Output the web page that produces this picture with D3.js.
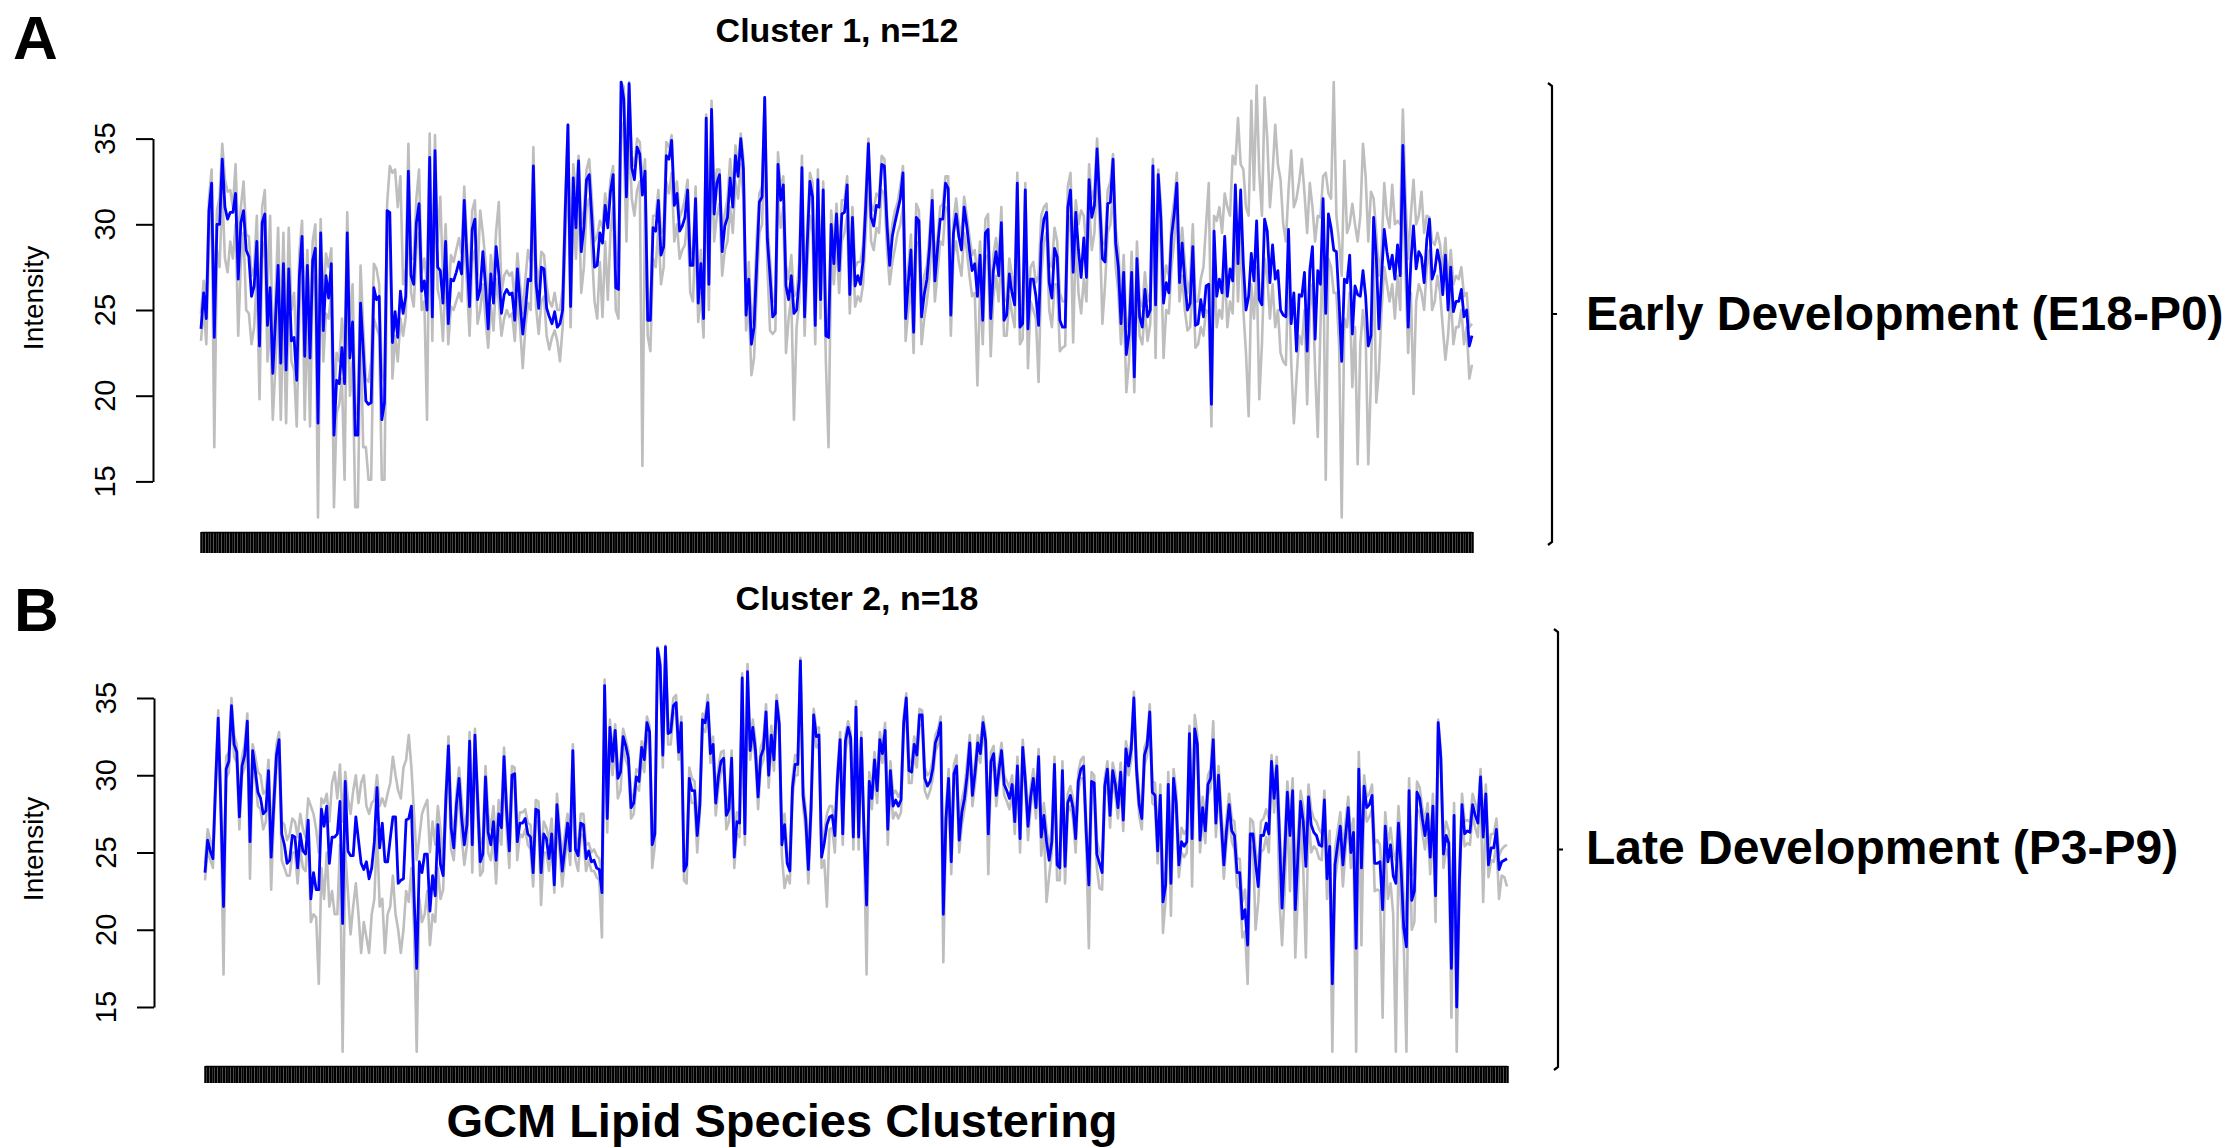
<!DOCTYPE html>
<html>
<head>
<meta charset="utf-8">
<script src="https://cdn.jsdelivr.net/npm/d3@7"></script>
<style>
  html, body { margin: 0; padding: 0; background: #fff; }
  svg text { font-family: "Liberation Sans", Arial, Helvetica, sans-serif; fill: #000; }
</style>
</head>
<body>
<svg id="chart" width="2228" height="1148"></svg>
<script>
'use strict';

var yTicks = [15, 20, 25, 30, 35];
var panelLetters = ['A', 'B'];
var panelTitles = ['Cluster 1, n=12', 'Cluster 2, n=18'];
var stageLabels = ['Early Development (E18-P0)', 'Late Development (P3-P9)'];
var yLabel = 'Intensity';
var xLabel = 'GCM Lipid Species Clustering';

// cluster 1 (early development): mean profile (blue) + upper / lower member traces (grey)
var clusterOneMean = [
  23.9,26.0,24.5,30.8,32.4,23.4,30.0,30.0,33.8,31.0, 30.3,30.7,30.7,31.8,26.8,30.1,30.8,28.5,28.1,25.8,
  26.4,29.0,22.9,30.1,30.6,24.1,26.3,21.3,24.4,27.6, 21.9,27.7,21.5,27.4,23.2,23.4,20.9,27.0,29.3,22.3,
  27.6,22.2,27.9,28.6,18.4,29.5,23.8,27.0,25.7,27.7, 17.7,20.9,20.7,22.8,20.7,29.5,22.2,24.3,17.7,17.7,
  25.4,22.7,19.7,19.5,19.6,26.3,25.6,25.8,18.6,19.6, 30.8,30.7,23.1,24.9,23.4,26.1,24.8,25.8,33.1,27.0,
  26.5,30.1,31.2,26.1,26.7,25.0,33.9,24.6,34.3,27.5, 27.3,25.4,29.0,24.2,26.8,26.7,27.2,27.8,27.1,31.4,
  28.1,25.2,29.7,30.3,25.6,26.2,28.4,26.4,23.9,27.1, 25.4,28.7,27.1,24.8,25.9,26.2,25.9,26.0,24.4,27.4,
  25.4,23.6,25.0,26.8,26.7,33.4,26.6,25.1,27.5,27.4, 25.1,24.6,24.2,24.9,24.0,24.2,25.0,30.8,35.8,25.2,
  32.7,29.8,33.7,28.4,29.8,32.6,32.9,30.3,27.5,27.6, 29.5,
  28.9,31.1,29.8,31.9,32.9,26.3,26.2,38.3,37.3,31.6, 38.2,33.3,32.6,34.5,34.1,31.7,33.1,24.4,24.4,29.8,
  29.6,31.4,28.2,28.7,34.0,33.8,34.9,31.1,31.8,29.6, 29.9,30.4,32.0,27.6,27.6,31.5,25.4,27.7,24.5,36.2,
  26.5,36.7,30.6,32.4,32.9,28.4,29.9,30.4,32.7,31.0, 34.0,32.8,35.0,33.2,24.7,26.8,23.0,24.0,27.7,31.3,
  31.6,37.4,29.1,27.0,24.6,24.8,33.5,31.4,32.3,26.4, 25.6,27.0,24.8,25.0,26.8,33.3,24.6,28.9,32.5,31.6,
  24.1,32.6,25.6,32.0,23.5,23.4,30.0,27.7,30.6,27.3, 30.6,30.7,32.3,25.9,30.4,26.4,27.0,26.5,27.9,31.1,
  34.7,30.4,29.9,31.1,31.0,33.5,33.4,29.9,27.6,29.3, 30.1,30.8,31.5,33.0,24.5,26.6,28.5,23.7,30.4,30.2,
  24.6,25.9,26.8,28.7,31.4,26.7,28.6,30.3,30.3,32.4, 32.1,24.7,29.5,30.6,29.3,28.5,31.0,29.9,28.5,27.3,
  27.7,25.8,28.2,24.4,29.5,29.7,24.5,27.3,28.4,27.0, 30.1,24.4,24.7,27.1,26.0,25.3,32.4,24.0,24.2,32.0,
  23.9,26.8,26.8,25.8,
  24.1,28.9,30.3,30.7,26.6,25.7,28.6,28.1,24.4,24.0, 24.0,31.0,32.0,27.2,30.7,28.5,26.9,29.2,26.9,32.6,
  30.4,31.1,34.4,31.2,28.0,27.8,31.2,31.3,33.8,28.9, 27.5,24.2,27.2,22.4,23.6,27.2,21.1,28.0,24.6,24.0,
  26.2,24.6,25.0,33.4,25.3,32.9,30.3,25.4,26.6,26.0, 29.3,30.6,32.4,26.6,28.9,26.6,25.0,25.4,28.7,24.1,
  24.2,25.6,24.6,26.4,26.5,19.5,29.6,25.8,26.8,26.0, 29.3,25.8,27.4,26.7,32.3,27.7,32.0,27.7,25.0,25.8,
  28.3,26.7,30.2,25.6,25.3,30.3,29.6,26.6,28.8,26.8, 27.3,25.0,24.7,24.6,29.7,24.2,26.0,22.6,25.9,25.8,
  27.2,22.6,27.3,28.7,23.3,27.3,26.5,31.5,24.8,30.6, 29.8,28.5,28.4,25.5,22.0,26.8,26.6,28.2,23.6,26.4,
  25.9,25.8,27.3,25.8,22.9,23.5,30.4,28.1,23.9,27.0, 29.7,28.4,27.4,28.2,26.8,28.8,27.0,34.6,29.5,24.0,
  27.8,29.9,27.4,28.4,28.1,26.6,29.1,30.3,26.8,27.3, 28.5,27.7,25.9,28.2,25.0,27.5,24.9,25.5,25.5,26.2,
  24.6,25.0,22.9,23.5
];
var clusterOneHigh = [
  24.8,26.7,25.5,31.5,33.2,25.0,30.8,31.6,34.7,32.6, 31.9,32.0,31.0,33.5,29.0,31.0,32.5,29.4,29.3,27.0,
  27.5,30.5,24.0,31.0,32.0,25.8,30.5,22.5,25.8,29.8, 24.0,29.5,23.0,29.8,25.0,26.0,22.5,28.4,30.2,24.3,
  28.5,24.0,29.0,30.0,20.5,30.3,25.2,28.3,27.5,28.6, 19.5,22.5,22.0,24.5,22.5,30.7,24.0,26.5,19.5,18.8,
  27.6,24.0,21.0,20.8,22.0,27.7,27.4,26.5,21.5,20.8, 31.2,33.4,33.0,33.2,31.0,32.8,26.5,27.4,34.7,28.0,
  28.0,31.5,33.2,27.2,28.0,26.5,35.3,25.9,35.2,29.0, 31.6,26.8,30.0,25.5,28.2,27.8,28.5,29.2,28.3,32.2,
  29.0,26.5,30.8,31.4,27.0,30.8,29.5,27.8,25.0,28.2, 26.8,29.6,31.3,26.0,27.0,27.3,27.0,27.2,25.5,28.3,
  26.5,24.8,26.8,28.5,27.8,34.5,27.8,26.4,28.4,28.2, 26.4,25.5,25.2,26.0,25.0,25.0,26.2,31.5,35.8,26.2,
  33.5,31.8,34.0,30.0,30.8,33.2,33.8,31.5,29.0,29.3, 30.2,
  29.8,31.8,30.5,32.6,33.4,28.5,27.5,38.3,38.0,32.8, 38.3,34.0,33.4,35.0,34.8,32.5,33.8,25.5,25.0,30.5,
  30.5,32.0,29.5,29.8,34.8,34.5,35.2,31.8,32.5,30.4, 30.8,31.5,32.6,28.6,28.2,32.2,26.5,28.5,25.5,36.4,
  27.5,37.2,31.8,33.2,33.2,29.4,30.6,31.5,33.8,31.8, 34.6,33.4,35.3,33.8,25.5,27.8,24.2,25.5,29.2,31.8,
  32.2,37.4,30.0,28.0,25.5,25.5,34.2,32.0,32.8,27.6, 26.8,28.2,25.8,26.0,27.8,34.0,25.6,29.8,33.0,32.4,
  25.2,33.2,26.8,32.5,24.5,24.2,30.8,28.6,31.2,28.3, 31.4,31.4,32.8,27.2,31.0,27.5,27.8,27.8,28.8,31.8,
  35.0,31.2,30.8,31.8,31.6,34.0,33.8,30.6,28.6,30.0, 30.8,31.3,32.2,33.4,25.6,27.5,29.4,24.8,31.2,30.8,
  25.5,27.0,27.6,29.5,32.0,27.8,29.2,31.0,31.2,32.8, 32.8,25.6,30.2,31.5,30.0,29.3,31.6,30.5,29.3,28.2,
  28.5,26.8,29.0,25.4,30.3,30.6,25.5,28.2,29.2,27.8, 31.0,25.5,25.6,28.0,27.0,26.2,33.0,25.0,25.0,32.4,
  24.8,27.5,27.8,26.6,
  27.0,30.5,31.0,31.2,27.8,27.5,29.8,29.0,26.0,25.5, 25.5,32.2,33.0,28.5,31.4,30.0,30.8,30.5,28.5,33.5,
  31.5,32.0,35.0,32.0,29.0,28.8,32.0,32.5,34.1,29.8, 28.5,25.5,28.2,24.0,24.6,28.4,22.8,29.0,25.5,25.2,
  27.2,25.5,26.0,33.8,26.5,33.2,31.2,26.5,27.6,27.0, 30.2,31.4,33.0,28.0,29.8,27.8,26.0,26.8,30.0,25.5,
  25.5,26.8,27.5,30.0,32.4,22.0,30.5,30.2,31.0,29.5, 31.8,31.0,30.5,34.0,33.5,36.2,33.5,33.2,31.0,30.5,
  37.2,32.0,38.1,33.0,30.5,37.4,35.0,31.0,33.0,35.8, 33.5,32.6,30.0,29.0,32.0,34.3,31.0,31.5,32.5,33.8,
  31.8,29.5,32.4,31.0,29.0,30.5,30.4,32.8,33.0,31.8, 31.5,38.3,30.5,29.0,27.0,33.7,29.5,30.0,31.2,30.0,
  29.0,30.5,34.7,32.8,29.0,31.9,31.5,29.5,27.0,28.5, 32.4,30.5,29.8,32.3,30.0,30.2,30.0,36.7,31.5,28.0,
  30.5,32.6,30.0,30.5,31.9,29.5,30.5,30.4,29.0,28.8, 29.5,28.8,27.2,29.2,26.5,28.5,26.5,27.0,26.8,27.5,
  25.8,26.0,24.0,24.2
];
var clusterOneLow = [
  23.2,25.2,23.0,29.0,31.4,17.0,28.5,27.5,32.0,28.0, 27.2,29.0,28.0,30.0,23.5,27.8,29.5,25.0,24.8,23.0,
  24.0,27.0,19.8,28.0,29.0,22.0,24.5,18.6,21.8,25.5, 18.6,25.5,18.4,25.5,22.0,21.5,18.2,25.0,28.0,18.6,
  25.0,18.2,26.5,27.0,12.9,28.0,22.0,24.8,24.5,26.0, 13.5,19.0,19.5,21.0,15.1,27.5,20.0,22.0,13.5,13.5,
  24.0,17.0,17.0,15.1,15.1,24.5,24.0,23.5,15.1,15.1, 28.5,30.0,21.0,23.5,22.0,24.5,23.5,24.6,31.0,26.0,
  25.2,28.5,29.5,25.0,25.5,18.6,32.0,23.2,33.0,26.2, 25.5,23.2,27.5,23.0,25.2,25.0,25.5,26.0,25.5,29.5,
  26.5,23.5,27.8,28.5,24.2,25.0,26.5,24.5,22.8,25.3, 23.8,26.8,25.5,23.5,24.5,25.0,24.6,24.8,23.2,25.8,
  24.0,21.6,24.0,25.4,25.0,31.5,25.2,23.6,25.5,25.8, 23.5,22.7,23.4,23.8,23.2,22.0,24.0,29.0,33.5,24.0,
  31.0,28.0,32.0,26.0,27.5,31.0,31.5,28.5,25.5,24.5, 27.8,
  24.6,29.0,25.6,29.5,31.0,25.0,24.5,36.0,35.0,29.0, 35.5,31.5,30.5,32.0,32.5,15.9,31.5,23.5,22.6,28.0,
  27.5,29.8,26.5,27.5,32.5,31.8,33.0,29.0,30.0,28.0, 28.5,28.8,30.5,26.0,25.5,29.5,24.3,26.0,23.4,33.5,
  25.0,34.5,29.0,30.5,31.2,27.0,28.5,29.0,31.0,29.5, 32.5,31.5,33.5,31.5,23.8,25.5,21.2,22.2,26.0,29.5,
  30.0,35.0,27.5,23.8,23.6,23.8,31.5,29.8,31.0,22.5, 24.5,25.8,18.6,24.0,25.5,31.5,23.5,27.5,30.5,29.5,
  23.0,31.0,24.5,30.5,22.0,17.0,28.5,26.5,29.0,26.0, 29.0,29.5,30.5,24.8,28.8,25.2,25.8,25.5,26.5,29.5,
  33.0,29.0,28.5,29.8,29.5,32.0,31.8,28.5,26.5,27.8, 28.6,29.5,30.0,31.0,23.2,25.0,26.5,22.5,28.8,29.0,
  23.0,24.5,25.5,27.0,29.8,25.5,27.2,29.0,28.8,31.0, 30.8,23.5,28.2,29.0,27.8,27.0,29.5,28.5,27.0,25.8,
  26.0,20.6,26.5,23.0,28.0,28.2,22.3,25.8,27.0,25.5, 28.5,23.5,23.5,25.8,24.8,24.0,30.5,23.0,23.3,30.5,
  21.6,25.5,25.0,24.5,
  20.8,27.0,29.0,29.5,25.0,24.0,26.5,26.5,22.6,22.8, 22.9,29.5,30.5,23.1,29.5,26.0,24.8,26.8,25.5,31.0,
  28.5,29.5,33.0,29.8,24.2,26.5,29.5,30.0,32.0,27.5, 26.0,23.0,25.5,20.2,22.0,25.5,20.2,27.0,23.5,23.0,
  25.0,23.2,24.2,31.5,22.2,31.0,28.5,22.2,25.0,24.8, 27.5,29.0,31.0,25.5,27.0,25.0,23.8,24.0,27.0,22.8,
  23.0,24.0,23.5,25.0,24.8,18.2,27.8,24.0,25.0,24.5, 27.5,24.0,25.5,24.8,30.0,25.5,29.5,25.0,22.5,18.8,
  26.5,24.5,27.5,19.8,23.0,28.0,27.0,24.5,26.5,24.0, 25.0,22.5,22.0,21.8,27.5,22.0,18.4,21.0,23.5,23.0,
  25.0,19.5,25.0,26.5,21.5,17.6,24.0,29.5,15.1,28.0, 27.5,26.0,26.0,23.0,12.9,24.5,24.0,26.0,20.5,24.0,
  16.0,23.0,25.0,23.5,16.0,21.0,28.5,19.6,21.5,25.0, 27.5,26.5,25.5,26.5,24.5,27.0,25.0,33.0,27.0,22.5,
  26.0,20.1,25.5,26.5,26.0,25.0,27.5,28.5,25.0,25.5, 27.0,26.0,24.0,22.1,23.5,26.0,23.0,24.0,24.0,25.0,
  23.0,24.0,21.0,21.8
];

// cluster 2 (late development)
var clusterTwoMean = [
  23.7,25.8,25.1,24.6,29.4,33.7,27.9,21.5,30.4,30.9, 34.5,32.0,31.5,27.3,30.6,31.3,33.5,25.7,31.6,30.3,
  28.9,28.5,27.5,27.7,30.3,24.7,28.1,31.3,32.3,26.2, 25.5,24.3,24.5,26.1,26.0,24.0,26.2,25.1,24.9,27.1,
  22.0,23.7,22.6,22.6,27.8,26.7,28.0,24.3,26.0,26.0, 26.2,28.3,20.4,29.6,25.1,24.8,24.8,27.3,25.8,24.3,
  23.9,24.4,23.3,24.0,25.7,29.2,25.3,26.9,24.4,24.4, 25.9,27.3,27.3,23.0,23.2,23.3,27.1,27.2,28.0,22.2,
  17.5,24.4,23.7,24.9,24.9,21.2,23.5,22.2,26.8,24.2, 23.5,28.4,31.9,26.6,25.3,28.1,29.8,27.2,25.5,26.8,
  32.2,25.5,32.6,28.5,24.4,24.9,29.9,26.3,25.5,27.0, 24.5,27.5,26.6,31.2,27.6,25.1,30.0,30.1,25.7,26.9,
  26.9,27.2,26.2,26.0,23.7,27.8,27.7,23.7,26.2,25.9, 24.6,26.2,22.9,28.1,25.9,23.8,25.3,26.9,25.1,31.6,
  25.2,24.8,26.9,26.8,24.6,25.1,24.4,24.5,24.0,23.9, 22.4,35.8,27.2,33.1,30.9,32.9,29.8,30.2,32.5,31.9,
  31.1,27.9,28.2,29.9,
  29.6,31.8,31.0,33.4,32.8,25.5,26.2,38.2,37.1,31.3, 38.3,32.7,32.8,34.5,34.7,31.5,33.4,23.8,24.2,29.8,
  29.0,29.0,26.1,28.1,33.6,33.4,34.7,31.4,32.0,28.2, 29.9,30.9,31.1,27.4,27.8,31.1,24.7,27.0,26.9,36.3,
  26.2,36.7,31.6,33.1,31.6,28.6,31.2,31.7,34.1,30.0, 32.6,31.0,34.8,33.3,25.5,26.8,24.3,23.8,29.2,30.7,
  30.7,37.4,28.7,27.2,23.9,27.8,33.9,32.5,32.6,24.7, 25.6,26.8,27.3,27.4,26.1,29.8,32.3,26.2,32.2,33.1,
  32.4,26.0,34.4,26.0,32.4,26.5,21.6,29.6,28.5,31.0, 29.0,32.3,31.4,32.9,26.5,30.3,28.0,28.4,28.0,28.4,
  33.3,35.0,30.3,30.2,32.0,31.3,33.9,33.9,29.8,29.3, 29.6,30.4,32.1,32.6,33.4,21.0,27.2,29.8,24.4,30.1,
  30.6,25.8,27.6,28.5,30.0,32.1,28.7,30.2,32.1,31.4, 33.4,32.2,26.2,30.9,31.4,28.7,30.3,31.6,29.4,29.0,
  28.5,29.4,27.0,30.6,25.9,31.8,29.6,26.7,28.6,29.8, 27.9,31.2,26.0,27.4,25.7,24.5,25.7,30.7,24.2,24.0,
  30.3,24.1,28.2,28.7,27.9,
  25.9,29.6,30.4,30.6,26.3,22.9,29.6,29.5,24.9,24.3, 23.7,29.3,30.4,27.4,30.3,29.4,27.9,30.2,27.1,31.7,
  30.6,31.7,35.0,30.4,28.1,27.2,31.3,31.9,34.1,28.9, 28.7,25.1,28.7,21.8,22.9,29.4,23.0,29.8,28.2,24.2,
  25.7,25.4,25.7,32.7,25.9,33.0,32.0,25.8,27.9,26.4, 29.4,29.8,32.3,26.9,30.0,27.0,24.2,26.4,28.1,26.4,
  26.1,23.7,23.7,20.7,21.3,19.0,26.2,26.2,24.3,22.8, 26.1,26.1,26.9,26.2,30.9,28.5,30.6,26.1,21.4,24.9,
  28.9,26.1,29.0,21.3,24.8,28.3,27.0,24.1,28.6,26.8, 26.3,26.1,25.5,25.4,28.4,23.3,25.4,16.5,24.2,25.5,
  26.7,24.2,26.1,27.9,25.0,26.3,18.8,30.4,24.0,29.3, 27.9,28.1,28.7,24.3,24.3,24.4,21.3,26.7,24.4,25.5,
  23.5,23.0,26.9,23.9,20.1,18.9,29.0,21.9,22.5,28.9, 28.5,27.2,26.1,27.5,24.7,28.0,22.2,33.4,31.1,24.9,
  26.1,25.6,17.5,27.4,15.0,23.1,28.1,26.2,26.4,26.3, 28.1,27.4,26.9,29.9,26.0,28.8,24.2,25.3,25.3,26.5,
  23.9,24.4,24.5,24.6
];
var clusterTwoHigh = [
  24.3,26.5,25.8,25.2,30.0,34.2,28.5,22.3,31.2,31.5, 35.0,32.6,32.0,28.0,31.2,32.0,34.0,26.3,32.0,31.2,
  30.2,30.0,28.8,29.0,31.0,26.0,29.0,32.0,32.8,27.0, 26.8,25.8,26.2,27.2,27.0,26.0,27.5,26.5,26.0,28.5,
  28.0,27.5,26.5,25.0,28.5,28.2,28.8,27.0,29.5,30.2, 28.5,30.7,27.0,30.2,28.5,27.5,29.0,30.0,28.2,29.5,
  30.0,28.0,27.5,28.2,28.4,30.0,28.0,28.5,28.0,28.8, 29.5,31.2,30.0,29.0,28.5,30.5,31.0,32.6,30.5,27.5,
  24.5,26.0,27.5,28.0,28.4,25.0,27.0,25.5,28.0,26.5, 24.5,29.0,32.5,27.5,26.0,28.8,30.5,28.5,26.5,27.6,
  32.8,26.5,33.0,29.2,25.5,26.0,30.6,27.5,26.5,28.0, 25.5,28.4,27.5,31.8,28.3,26.0,30.6,30.5,26.5,27.6,
  27.6,27.8,26.9,26.8,24.6,28.4,28.3,24.5,27.0,26.6, 25.8,27.2,23.8,28.8,26.6,24.8,26.2,27.5,26.0,32.0,
  26.0,25.5,27.5,27.5,25.5,25.6,25.0,25.2,24.8,24.6, 23.5,36.2,28.2,33.6,31.5,33.3,30.5,30.8,33.0,32.3,
  31.6,28.5,28.8,30.4,
  30.2,32.2,31.6,33.8,33.2,26.2,27.0,38.3,37.5,32.0, 38.4,33.2,33.4,35.0,35.2,32.0,33.8,24.5,25.0,30.5,
  29.8,29.6,26.8,28.8,34.0,33.8,35.2,32.0,32.5,28.8, 30.5,31.5,31.6,28.0,28.6,31.6,25.5,27.6,27.5,36.6,
  26.8,37.2,32.2,33.6,32.2,29.2,31.8,32.3,34.6,30.6, 33.2,31.6,35.2,33.8,26.2,27.5,25.0,24.5,29.8,31.3,
  31.2,37.6,29.3,27.8,24.6,28.5,34.3,33.0,33.1,25.5, 26.3,27.5,28.0,28.0,26.8,30.4,32.8,26.8,32.6,33.5,
  32.8,26.6,34.8,26.8,32.8,27.2,22.4,30.2,29.2,31.5, 29.6,32.8,31.9,33.4,27.2,30.9,28.8,29.0,28.6,29.0,
  33.8,35.3,31.0,30.8,32.5,31.8,34.3,34.2,30.5,30.0, 30.2,31.0,32.6,33.0,33.8,22.0,28.0,30.4,25.2,30.7,
  31.3,26.6,28.4,29.2,30.8,32.6,29.4,30.8,32.6,31.9, 33.8,32.7,27.0,31.5,31.9,29.4,30.9,32.1,30.0,29.6,
  29.2,30.0,27.8,31.2,26.6,32.3,30.2,27.5,29.2,30.4, 28.6,31.7,26.8,28.2,26.5,25.3,26.5,31.2,25.0,24.8,
  30.9,25.0,28.8,29.3,28.5,
  26.8,30.2,31.0,31.2,27.0,23.8,30.2,30.0,25.8,25.0, 24.6,29.8,30.9,28.2,30.8,30.0,28.5,30.8,27.8,32.2,
  31.2,32.2,35.4,31.0,28.8,27.8,31.8,32.3,34.6,29.6, 29.5,26.0,29.4,22.8,23.8,30.2,24.2,30.4,29.0,25.0,
  26.6,26.2,26.5,33.2,26.8,33.9,32.6,26.6,28.6,27.2, 30.0,30.4,33.5,27.6,30.6,27.8,25.2,27.2,28.8,27.2,
  27.0,24.6,24.6,21.8,22.6,20.5,27.2,27.0,25.2,23.8, 27.0,27.2,27.8,27.2,31.3,29.2,31.2,27.2,22.8,26.0,
  29.6,27.2,29.8,22.8,26.0,29.0,28.0,25.5,29.4,27.8, 27.2,27.0,26.5,26.2,29.0,24.4,26.4,18.0,25.2,26.4,
  27.6,25.2,27.0,28.6,26.0,27.2,20.0,31.5,25.2,30.0, 28.6,28.8,29.4,25.6,25.8,25.5,22.5,27.6,25.5,26.6,
  25.0,24.5,28.0,25.5,22.0,20.5,29.8,23.5,24.0,29.6, 29.2,27.9,27.0,28.2,25.6,28.8,23.4,33.6,31.6,25.8,
  27.0,26.4,19.5,28.2,16.5,24.2,28.8,27.0,27.1,27.0, 28.8,28.2,27.6,30.4,26.9,29.4,25.2,26.2,26.2,27.2,
  24.8,25.2,25.4,25.5
];
var clusterTwoLow = [
  23.2,25.2,24.5,24.0,28.8,33.0,27.0,17.1,29.8,30.2, 34.0,31.2,30.8,26.5,30.0,30.5,32.8,23.3,31.0,29.8,
  28.0,27.8,26.5,27.0,29.5,22.6,27.2,30.5,31.6,24.5, 24.0,23.5,23.5,25.0,25.0,23.0,25.2,24.0,23.8,26.2,
  20.5,21.0,20.8,16.5,24.0,22.0,25.0,21.5,22.5,21.0, 21.0,25.5,12.1,25.0,22.5,19.7,21.5,23.0,21.0,18.5,
  20.5,19.5,18.5,21.0,22.0,26.5,21.5,22.0,18.5,21.0, 21.5,23.5,21.0,20.0,18.5,20.0,22.5,21.8,24.0,20.0,
  12.1,22.0,20.5,21.0,22.5,19.0,21.0,20.5,24.0,22.0, 22.6,27.5,31.0,25.2,24.5,27.0,29.0,26.0,24.2,25.5,
  31.5,23.7,32.0,27.5,23.5,23.8,29.0,25.0,24.5,26.0, 23.0,26.5,25.5,30.5,26.5,24.0,29.2,29.5,24.5,26.2,
  26.0,26.5,25.5,25.2,22.8,27.0,27.0,21.6,25.0,25.0, 23.8,25.5,22.4,27.0,25.0,22.8,24.5,26.0,24.2,30.8,
  24.5,23.8,26.2,26.0,23.8,24.5,23.8,23.8,23.4,23.2, 19.5,35.0,26.3,32.5,30.0,32.0,28.5,29.0,31.8,31.0,
  30.5,27.2,27.5,29.3,
  29.0,31.0,30.2,32.6,32.0,24.0,25.5,37.5,36.5,30.5, 37.8,32.0,32.0,34.0,34.0,31.0,32.8,23.2,23.0,29.0,
  28.2,28.2,25.0,27.5,33.0,32.8,34.0,30.8,31.3,27.4, 29.2,30.2,30.5,26.5,27.0,30.5,24.0,26.2,26.0,35.8,
  25.5,36.2,31.0,32.5,31.0,27.8,30.5,31.0,33.5,29.2, 32.0,30.3,34.2,32.6,24.8,22.7,23.5,23.0,28.6,30.0,
  30.0,37.0,28.0,26.4,23.0,27.0,33.3,31.8,32.0,24.0, 24.5,21.5,26.5,26.6,25.0,29.2,31.6,25.5,31.5,32.5,
  31.8,25.2,33.8,25.2,31.8,25.8,17.1,29.0,27.8,30.2, 28.2,31.6,30.8,32.2,25.5,29.6,27.2,27.6,27.2,27.6,
  32.6,34.4,29.5,29.5,31.4,30.5,33.3,33.2,29.0,28.5, 29.0,29.8,31.5,32.0,32.7,17.9,26.5,29.2,23.6,29.4,
  29.8,25.0,26.8,27.8,29.2,31.4,28.0,29.5,31.4,30.8, 32.8,31.6,23.6,30.2,30.8,28.0,29.6,31.0,28.7,28.3,
  27.8,28.8,26.2,30.0,25.0,31.2,29.0,25.8,27.9,29.2, 27.2,30.6,24.8,26.6,21.8,23.5,25.0,30.0,23.2,23.2,
  29.7,23.0,27.6,28.0,27.2,
  25.0,29.0,29.8,29.8,25.5,18.8,29.0,28.8,24.0,22.7, 22.6,28.6,29.7,26.6,29.6,28.7,27.2,29.5,26.4,31.0,
  30.0,31.0,34.5,29.8,27.4,26.5,30.6,31.3,33.5,28.2, 28.0,24.3,28.0,19.8,22.0,28.8,20.9,29.0,27.5,23.4,
  25.0,24.7,25.0,32.0,22.8,32.2,31.3,25.0,27.2,25.6, 28.7,29.2,31.6,26.0,29.3,26.2,23.3,25.6,27.4,25.7,
  25.2,22.8,22.6,19.5,19.9,16.5,25.2,25.4,20.0,21.8, 25.0,25.2,26.0,25.0,30.2,27.6,29.8,22.0,19.0,22.5,
  27.8,22.5,27.5,18.2,22.5,27.0,24.0,18.2,27.6,25.0, 25.4,25.2,24.6,24.5,27.6,22.0,24.6,12.1,23.2,24.5,
  25.8,22.8,25.2,27.0,24.0,25.2,12.1,29.6,19.0,28.5, 27.0,27.3,27.8,22.5,22.6,22.5,14.3,25.5,22.0,23.0,
  21.0,12.1,25.0,21.5,19.0,12.1,28.0,20.0,20.5,27.8, 27.6,26.3,25.2,26.6,23.6,27.0,20.5,32.6,30.3,24.0,
  25.2,24.7,14.3,26.4,12.1,22.0,27.4,25.4,25.6,25.5, 27.4,26.6,26.0,29.0,21.8,28.0,23.4,24.5,24.4,25.6,
  22.0,23.5,23.4,22.8
];

// page layout of the two panels (pixels)
var panels = [
  { mean: clusterOneMean, high: clusterOneHigh, low: clusterOneLow,
    letter: panelLetters[0], title: panelTitles[0], stage: stageLabels[0],
    x0: 201, x1: 1472, yLow: 481.4, yHigh: 138.6, axisX: 153,
    rugY: 532, rugLen: 21, titleX: 837, titleY: 42, letterX: 13, letterY: 59,
    labelY: 298, bracketX: 1552, bracketTop: 83, bracketBottom: 545, stageY: 330 },
  { mean: clusterTwoMean, high: clusterTwoHigh, low: clusterTwoLow,
    letter: panelLetters[1], title: panelTitles[1], stage: stageLabels[1],
    x0: 205, x1: 1507, yLow: 1007, yHigh: 698, axisX: 154,
    rugY: 1066, rugLen: 17, titleX: 857, titleY: 610, letterX: 14, letterY: 631,
    labelY: 849, bracketX: 1558, bracketTop: 629, bracketBottom: 1070, stageY: 864 }
];

var svg = d3.select('#chart');

function buildPanel(p) {
  var g = svg.append('g').attr('class', 'panel');

  var xScale = d3.scaleLinear()
    .domain([0, p.mean.length - 1])
    .range([p.x0, p.x1]);
  var yScale = d3.scaleLinear()
    .domain([yTicks[0], yTicks[yTicks.length - 1]])
    .range([p.yLow, p.yHigh]);

  var lineGen = d3.line()
    .defined(function(d){ return d != null; })
    .x(function(d, i){ return xScale(i); })
    .y(function(d){ return yScale(d); });

  // member traces first, mean on top
  [p.low, p.high].forEach(function(series){
    g.append('path')
      .datum(series)
      .attr('d', lineGen)
      .attr('fill', 'none')
      .attr('stroke', '#bebebe')
      .attr('stroke-width', 2.6)
      .attr('stroke-linejoin', 'round');
  });
  g.append('path')
    .datum(p.mean)
    .attr('d', lineGen)
    .attr('fill', 'none')
    .attr('stroke', '#0000ff')
    .attr('stroke-width', 2.8)
    .attr('stroke-linejoin', 'round');

  // y axis, R style (line only spans the ticks)
  var yAxisGen = d3.axisLeft(yScale).tickValues(yTicks).tickSize(17).tickSizeOuter(0).tickFormat('');
  var yAxis = g.append('g')
    .attr('transform', 'translate(' + p.axisX + ',0)')
    .attr('color', '#000')
    .call(yAxisGen);
  yAxis.selectAll('path, line').attr('stroke-width', 2);

  g.selectAll('.ytick')
    .data(yTicks)
    .enter().append('text')
    .attr('class', 'ytick')
    .attr('transform', function(d){ return 'translate(' + (p.axisX - 38) + ',' + yScale(d) + ') rotate(-90)'; })
    .attr('text-anchor', 'middle')
    .style('font-size', '29px')
    .text(function(d){ return d; });

  g.append('text')
    .attr('transform', 'translate(43,' + p.labelY + ') rotate(-90)')
    .attr('text-anchor', 'middle')
    .style('font-size', '28px')
    .text(yLabel);

  // one tick per lipid species along the bottom
  var rugGen = d3.axisBottom(xScale)
    .tickValues(d3.range(p.mean.length))
    .tickSize(p.rugLen)
    .tickSizeOuter(0)
    .tickFormat('');
  var rug = g.append('g')
    .attr('transform', 'translate(0,' + p.rugY + ')')
    .attr('color', '#000')
    .call(rugGen);
  rug.selectAll('line').attr('stroke-width', 2.5);
  rug.select('.domain').attr('stroke-width', 1.5);

  g.append('text')
    .attr('x', p.titleX)
    .attr('y', p.titleY)
    .attr('text-anchor', 'middle')
    .style('font-size', '34px')
    .style('font-weight', 'bold')
    .text(p.title);

  g.append('text')
    .attr('x', p.letterX)
    .attr('y', p.letterY)
    .style('font-size', '62px')
    .style('font-weight', 'bold')
    .text(p.letter);

  // bracket on the right with its stage label
  var bx = p.bracketX, mid = (p.bracketTop + p.bracketBottom) / 2;
  g.append('path')
    .attr('d', 'M' + (bx - 4) + ',' + p.bracketTop + 'L' + bx + ',' + (p.bracketTop + 3) +
               'L' + bx + ',' + (p.bracketBottom - 3) + 'L' + (bx - 4) + ',' + p.bracketBottom +
               'M' + bx + ',' + mid + 'L' + (bx + 5) + ',' + mid)
    .attr('fill', 'none')
    .attr('stroke', '#000')
    .attr('stroke-width', 2.2);

  g.append('text')
    .attr('x', 1586)
    .attr('y', p.stageY)
    .style('font-size', '48px')
    .style('font-weight', 'bold')
    .text(p.stage);
}

panels.forEach(buildPanel);

svg.append('text')
  .attr('x', 782)
  .attr('y', 1137)
  .attr('text-anchor', 'middle')
  .style('font-size', '47px')
  .style('font-weight', 'bold')
  .text(xLabel);
</script>
</body>
</html>
